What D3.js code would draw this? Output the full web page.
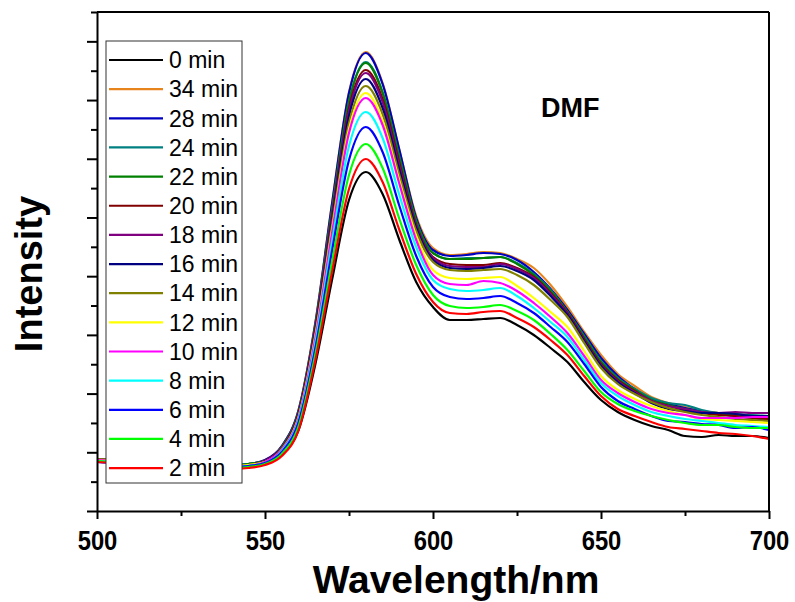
<!DOCTYPE html>
<html>
<head>
<meta charset="utf-8">
<script src="https://cdn.jsdelivr.net/npm/d3@7"></script>
<style>
  body { margin: 0; background: #fff; }
  text { font-family: Arial, "Liberation Sans", sans-serif; }
</style>
</head>
<body>
<div id="chart"></div>
<script>
// wavelength grid (nm)
var wavelength = [500,505,510,515,520,525,530,535,540,545,550,555,560,565,570,575,580,585,590,595,
  600,605,610,615,620,625,630,635,640,645,650,655,660,665,670,675,680,685,690,695,700];

// intensity (a.u.), one array per irradiation time
var min0  = [50,49,48,47,46,45,44,43,43,44,47,56,81,147,232,311,339,317,271,229,204,191,191,192,193,186,176,163,149,129,111,99,91,85,81,75,74,76,75,75,73];
var min34 = [52,51,50,49,48,47,46,45,46,47,51,65,101,189,309,419,459,428,361,295,263,256,257,259,258,252,243,226,204,179,156,137,125,114,108,104,100,98,96,95,93];
var min28 = [51,50,49,48,47,46,45,45,46,47,51,65,101,188,308,418,458,427,361,293,261,255,256,258,257,251,239,222,201,177,153,135,122,112,107,103,100,97,95,93,91];
var min24 = [51,50,49,48,47,46,46,45,46,47,50,64,99,185,302,410,449,419,354,290,258,252,253,253,254,248,237,221,199,175,150,133,122,113,108,106,101,98,97,96,95];
var min22 = [52,51,50,49,48,47,46,45,45,47,50,64,99,185,301,409,448,418,353,290,258,252,252,253,254,247,236,220,199,174,149,132,121,111,106,102,99,97,96,94,93];
var min20 = [51,50,49,48,47,46,46,45,45,46,50,63,98,183,297,403,441,412,348,286,254,247,246,246,248,243,234,218,198,172,147,131,120,110,105,101,98,96,95,93,92];
var min18 = [52,51,50,49,48,47,46,45,45,46,50,63,97,182,295,400,438,409,345,285,253,245,244,244,247,242,233,217,197,171,146,130,119,110,105,102,99,98,99,98,98];
var min16 = [51,50,49,48,47,46,45,45,45,46,49,62,96,179,291,395,432,403,341,283,251,243,242,243,245,240,231,215,196,170,145,129,118,108,102,100,98,98,97,95,95];
var min14 = [52,51,50,49,48,47,46,45,45,46,49,62,95,177,287,388,425,397,336,280,249,241,240,241,242,236,226,211,194,168,143,127,117,109,103,99,96,94,92,91,90];
var min12 = [51,50,49,48,47,46,45,45,45,46,49,61,94,175,282,382,418,390,330,275,241,233,232,233,234,225,213,199,184,160,135,121,112,105,100,96,92,91,90,89,88];
var min10 = [51,50,49,48,47,46,45,44,44,45,49,61,93,173,279,378,413,386,327,271,236,227,226,230,228,220,208,194,178,155,131,118,109,102,98,96,93,93,93,94,94];
var min8  = [50,49,48,47,46,45,45,44,44,45,48,60,91,168,270,365,399,373,316,264,231,222,220,221,223,215,203,189,174,151,128,115,106,99,95,92,90,88,86,85,84];
var min6  = [49,48,48,47,46,45,44,44,44,45,48,59,89,163,261,351,384,359,305,255,224,214,212,213,215,208,198,184,169,147,124,110,102,95,90,89,87,86,83,84,81];
var min4  = [50,49,48,47,46,45,44,43,43,44,47,57,85,157,250,336,367,343,292,246,216,205,203,204,206,200,191,177,161,140,119,107,100,95,91,88,86,86,84,83,83];
var min2  = [49,48,47,46,45,44,43,42,42,43,46,55,81,151,240,322,352,329,281,237,209,198,197,199,200,193,184,171,156,135,115,102,95,89,84,82,80,78,77,75,72];

var seriesLabels = ["0 min","34 min","28 min","24 min","22 min","20 min","18 min","16 min","14 min","12 min","10 min","8 min","6 min","4 min","2 min"];
var seriesValues = [min0,min34,min28,min24,min22,min20,min18,min16,min14,min12,min10,min8,min6,min4,min2];
var seriesColors = ["#000000","#E8841C","#0000C0","#008080","#008000","#800000","#800080","#000080","#808000","#FFFF00","#FF00FF","#00FFFF","#0000FF","#00FF00","#FF0000"];

var xMajor = [500,550,600,650,700];
var xMinor = [525,575,625,675];
var yMax = 499;

var margin = { top: 12, left: 97, right: 26, bottom: 91 },
    width = 795 - margin.left - margin.right,
    height = 602 - margin.top - margin.bottom;

var svg = d3.select("#chart")
  .append("svg")
  .attr("width", 795)
  .attr("height", 602)
  .append("g")
  .attr("transform", "translate(" + margin.left + "," + margin.top + ")");

var xScale = d3.scaleLinear().domain([500, 700]).range([0, width]);
var yScale = d3.scaleLinear().domain([0, yMax]).range([height, 0]);

// unlabelled y ticks, 17 intervals, every other one long
var yTicks = d3.range(0, 18).map(function(i) { return i * yMax / 17; });
var yMajor = yTicks.filter(function(d, i) { return i % 2 == 0; });
var yMinor = yTicks.filter(function(d, i) { return i % 2 == 1; });

svg.append("clipPath").attr("id", "clip")
  .append("rect").attr("width", width).attr("height", height);

var line = d3.line()
  .x(function(d) { return xScale(d[0]); })
  .y(function(d) { return yScale(d[1]); })
  .curve(d3.curveMonotoneX);

var data = seriesValues.map(function(vals, i) {
  return { label: seriesLabels[i], color: seriesColors[i], points: wavelength.map(function(w, j) { return [w, vals[j]]; }) };
});

svg.append("g").attr("clip-path", "url(#clip)")
  .selectAll("path")
  .data(data)
  .enter().append("path")
  .attr("d", function(d) { return line(d.points); })
  .attr("fill", "none")
  .attr("stroke", function(d) { return d.color; })
  .attr("stroke-width", 2.2)
  .attr("stroke-linejoin", "round");

// frame
svg.append("line").attr("x1", 0).attr("x2", width).attr("y1", 0).attr("y2", 0)
  .attr("stroke", "#000").attr("stroke-width", 2);
svg.append("line").attr("x1", width).attr("x2", width).attr("y1", 0).attr("y2", height)
  .attr("stroke", "#000").attr("stroke-width", 2);

// axes
var xAxis = svg.append("g")
  .attr("transform", "translate(0," + height + ")")
  .call(d3.axisBottom(xScale).tickValues(xMajor).tickSize(8).tickSizeOuter(0).tickFormat(d3.format("d")));
xAxis.select(".domain").attr("stroke-width", 2);
xAxis.selectAll(".tick line").attr("stroke-width", 2);
xAxis.selectAll("text")
  .attr("y", 39)
  .attr("dy", 0)
  .attr("transform", "scale(0.85,1)")
  .style("font-size", "28px")
  .style("font-weight", "bold")
  .attr("fill", "#000");

svg.append("g")
  .attr("transform", "translate(0," + height + ")")
  .call(d3.axisBottom(xScale).tickValues(xMinor).tickSize(5).tickFormat(""))
  .call(function(g) { g.select(".domain").remove(); g.selectAll("line").attr("stroke-width", 2); });

var yAxis = svg.append("g")
  .call(d3.axisLeft(yScale).tickValues(yMajor).tickSize(10).tickSizeOuter(0).tickFormat(""));
yAxis.select(".domain").attr("stroke-width", 2);
yAxis.selectAll(".tick line").attr("stroke-width", 2);

svg.append("g")
  .call(d3.axisLeft(yScale).tickValues(yMinor).tickSize(6).tickFormat(""))
  .call(function(g) { g.select(".domain").remove(); g.selectAll("line").attr("stroke-width", 2); });

// axis titles
svg.append("text")
  .attr("x", 359)
  .attr("y", 581)
  .attr("text-anchor", "middle")
  .style("font-size", "39px")
  .style("font-weight", "bold")
  .text("Wavelength/nm");

svg.append("text")
  .attr("transform", "translate(-55," + 262 + ") rotate(-90)")
  .attr("text-anchor", "middle")
  .style("font-size", "38px")
  .style("font-weight", "bold")
  .text("Intensity");

// solvent label
svg.append("text")
  .attr("x", 444)
  .attr("y", 105)
  .style("font-size", "27px")
  .style("font-weight", "bold")
  .text("DMF");

// legend
var legend = svg.append("g").attr("transform", "translate(9,29)");
legend.append("rect")
  .attr("width", 136)
  .attr("height", 442)
  .attr("fill", "#fff")
  .attr("stroke", "#333")
  .attr("stroke-width", 1);

var rows = legend.selectAll(".row")
  .data(data)
  .enter().append("g")
  .attr("class", "row")
  .attr("transform", function(d, i) { return "translate(0," + (19 + i * 29.15) + ")"; });

rows.append("line")
  .attr("x1", 3).attr("x2", 57)
  .attr("stroke", function(d) { return d.color; })
  .attr("stroke-width", 2.2);

rows.append("text")
  .attr("x", 63)
  .attr("dy", "0.36em")
  .style("font-size", "23px")
  .text(function(d) { return d.label; });
</script>
</body>
</html>
